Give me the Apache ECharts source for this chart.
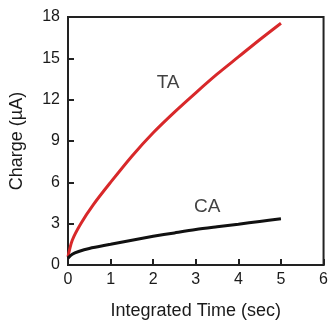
<!DOCTYPE html>
<html>
<head>
<meta charset="utf-8">
<script src="https://cdn.jsdelivr.net/npm/echarts@6/dist/echarts.min.js"></script>
<style>
  html, body { margin: 0; padding: 0; background: #fff; }
  #chart { width: 331px; height: 325px; }
</style>
</head>
<body>
<div id="chart"></div>
<script>
// values
const timeTA = [0, 0.1, 0.3, 0.6, 1.0, 1.5, 2.0, 2.5, 3.0, 3.5, 4.0, 4.5, 5.0]
const chargeTA = [0.6, 1.8, 3.0, 4.4, 6.0, 7.9, 9.6, 11.1, 12.5, 13.85, 15.1, 16.35, 17.55]
const timeCA = [0, 0.1, 0.25, 0.5, 1.0, 1.5, 2.0, 2.5, 3.0, 3.5, 4.0, 4.5, 5.0]
const chargeCA = [0.5, 0.78, 0.98, 1.2, 1.5, 1.8, 2.08, 2.33, 2.57, 2.77, 2.96, 3.16, 3.36]
const xTicks = [0, 1, 2, 3, 4, 5, 6]
const yTicks = [0, 3, 6, 9, 12, 15, 18]
const labels = [
  { name: 'TA', x: 2.35, y: 13.2 },
  { name: 'CA', x: 3.27, y: 4.25 }
]

const pairs = (xs, ys) => xs.map((x, i) => [x, ys[i]])
const font = 'Liberation Sans, Arial, sans-serif'
const ink = '#1a1a1a'

const chart = echarts.init(document.getElementById('chart'))
const option = {
  backgroundColor: '#fff',
  animation: false,
  grid: {
    left: 68,
    right: 2,
    top: 17,
    bottom: 49,
    show: true,
    borderColor: '#222',
    borderWidth: 2
  },
  xAxis: {
    type: 'value',
    min: xTicks[0],
    max: xTicks[xTicks.length - 1],
    interval: 1,
    name: 'Integrated Time (sec)',
    nameLocation: 'middle',
    nameGap: 37,
    nameTextStyle: { color: ink, fontSize: 18, fontFamily: font },
    axisLine: { lineStyle: { color: '#222', width: 2 } },
    axisTick: { inside: true, length: 6, lineStyle: { color: '#222', width: 2 } },
    axisLabel: { color: ink, fontSize: 16, fontFamily: font, margin: 7 },
    splitLine: { show: false }
  },
  yAxis: {
    type: 'value',
    min: yTicks[0],
    max: yTicks[yTicks.length - 1],
    interval: 3,
    name: 'Charge (\u00b5A)',
    nameLocation: 'middle',
    nameGap: 42,
    nameTextStyle: { color: ink, fontSize: 18, fontFamily: font },
    axisLine: { lineStyle: { color: '#222', width: 2 } },
    axisTick: { inside: true, length: 6, lineStyle: { color: '#222', width: 2 } },
    axisLabel: { color: ink, fontSize: 16, fontFamily: font, margin: 8 },
    splitLine: { show: false }
  },
  series: [
    {
      name: 'TA',
      type: 'line',
      smooth: 0.3,
      showSymbol: false,
      lineStyle: { color: '#d8282a', width: 3 },
      data: pairs(timeTA, chargeTA)
    },
    {
      name: 'CA',
      type: 'line',
      smooth: 0.3,
      showSymbol: false,
      lineStyle: { color: '#111', width: 3 },
      data: pairs(timeCA, chargeCA)
    },
    {
      type: 'scatter',
      symbolSize: 0,
      silent: true,
      label: {
        show: true,
        position: 'inside',
        formatter: p => p.name,
        color: '#111',
        fontSize: 19,
        fontFamily: font
      },
      data: labels.map(l => ({ name: l.name, value: [l.x, l.y] }))
    }
  ]
}
chart.setOption(option)
</script>
</body>
</html>
